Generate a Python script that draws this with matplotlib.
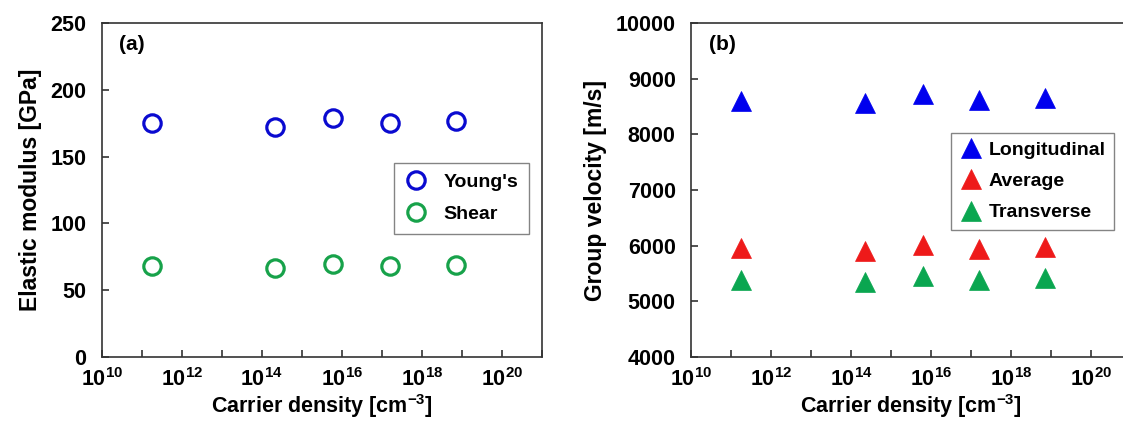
import numpy as np
import matplotlib
matplotlib.use('Agg')
import matplotlib.pyplot as plt
from matplotlib.ticker import FixedLocator, FuncFormatter

# Data
carrier = [1.8e11, 2.2e14, 6.2e15, 1.6e17, 7.0e18]
youngs = [175, 172.5, 179, 175, 176.5]
shear = [68, 67, 69.5, 68, 68.5]
longitudinal = [8600, 8560, 8730, 8610, 8650]
average = [5950, 5900, 6020, 5940, 5980]
transverse = [5390, 5350, 5450, 5390, 5420]

plt.rcParams['font.family'] = ['Liberation Sans', 'DejaVu Sans']
plt.rcParams['font.weight'] = 'bold'
plt.rcParams['mathtext.fontset'] = 'custom'
plt.rcParams['mathtext.rm'] = 'Liberation Sans:bold'
plt.rcParams['mathtext.bf'] = 'Liberation Sans:bold'

BLUE = '#0a0ad0'
GREEN = '#17a24a'
RED = '#ee1a1a'
TBLUE = '#0000ee'
TGREEN = '#0aa650'


def dec_label(x, pos):
    e = int(round(np.log10(x)))
    return r'$\mathbf{10^{%d}}$' % e if e % 2 == 0 else ''


def style_axes(ax):
    ax.set_xscale('log')
    ax.set_xlim(1e10, 1e21)
    ax.xaxis.set_major_locator(FixedLocator([10.0 ** k for k in range(10, 22)]))
    ax.xaxis.set_major_formatter(FuncFormatter(dec_label))
    ax.xaxis.set_minor_locator(FixedLocator([]))
    ax.tick_params(axis='both', direction='in', length=5, width=1.1,
                   labelsize=15.5, color='#222222')
    ax.tick_params(axis='x', pad=8)
    ax.tick_params(axis='y', pad=11)
    for s in ax.spines.values():
        s.set_linewidth(1.2)
        s.set_color('#333333')
    ax.set_xlabel('Carrier density [cm$^{\\mathbf{-3}}$]', fontsize=15.5,
                  fontweight='bold', labelpad=1)


fig = plt.figure(figsize=(11.23, 4.21), dpi=100)
ax1 = fig.add_axes([0.0906, 0.152, 0.3918, 0.7933])
ax2 = fig.add_axes([0.6153, 0.152, 0.3918, 0.7933])

# (a) elastic moduli
style_axes(ax1)
ax1.plot(carrier, youngs, 'o', ms=12.5, mfc='none', mec=BLUE, mew=2.3, label="Young's")
ax1.plot(carrier, shear, 'o', ms=12.5, mfc='none', mec=GREEN, mew=2.3, label='Shear')
ax1.set_ylim(0, 250)
ax1.set_yticks(range(0, 251, 50))
ax1.set_ylabel('Elastic modulus [GPa]', fontsize=16.5, fontweight='bold', labelpad=6)
ax1.text(0.04, 0.935, '(a)', transform=ax1.transAxes, fontsize=15,
         fontweight='bold', va='center')
leg1 = ax1.legend(loc='upper left', bbox_to_anchor=(0.664, 0.582), fontsize=14,
                  frameon=True, fancybox=False, edgecolor='#666666',
                  handletextpad=0.8, labelspacing=0.75, borderpad=0.55,
                  handlelength=1.2, borderaxespad=0)
leg1.get_frame().set_linewidth(1.0)

# (b) group velocity
style_axes(ax2)
ax2.plot(carrier, longitudinal, '^', ms=14, mfc=TBLUE, mec=TBLUE, mew=0.5, label='Longitudinal')
ax2.plot(carrier, average, '^', ms=14, mfc=RED, mec=RED, mew=0.5, label='Average')
ax2.plot(carrier, transverse, '^', ms=14, mfc=TGREEN, mec=TGREEN, mew=0.5, label='Transverse')
ax2.set_ylim(4000, 10000)
ax2.set_yticks(range(4000, 10001, 1000))
ax2.set_ylabel('Group velocity [m/s]', fontsize=16.5, fontweight='bold', labelpad=6)
ax2.text(0.04, 0.935, '(b)', transform=ax2.transAxes, fontsize=15,
         fontweight='bold', va='center')
leg2 = ax2.legend(loc='upper left', bbox_to_anchor=(0.59, 0.672), fontsize=14,
                  frameon=True, fancybox=False, edgecolor='#666666',
                  handletextpad=0.3, labelspacing=0.7, borderpad=0.45,
                  handlelength=1.2, borderaxespad=0)
leg2.get_frame().set_linewidth(1.0)

fig.savefig('out.png', dpi=100)
